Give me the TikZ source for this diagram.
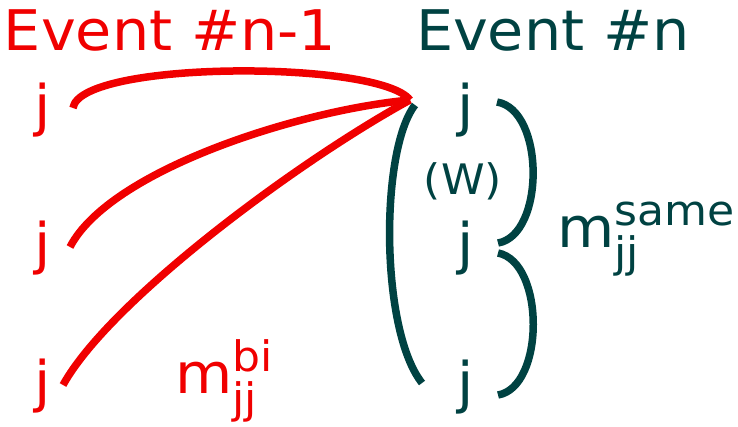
\documentclass[tikz,border=0pt]{standalone}
\usepackage{fontspec}
\setmainfont{DejaVu Sans}[FakeStretch=1.05]
\definecolor{evred}{RGB}{240,0,0}
\definecolor{evteal}{RGB}{0,66,66}
\begin{document}
\begin{tikzpicture}[x=1pt,y=-1pt,
  big/.style={font=\fontsize{56}{60}\selectfont, inner sep=0pt, outer sep=0pt},
  mid/.style={font=\fontsize{42}{46}\selectfont, inner sep=0pt, outer sep=0pt},
  redline/.style={draw=evred, line width=7.5pt},
  tealline/.style={draw=evteal, line width=7.5pt}]
\useasboundingbox (0,0) rectangle (738,426);
% titles
\node[big, text=evred, anchor=base west] (t1) at (4,50) {Event \#n-1};
\node[big, text=evteal, anchor=base west] (t2) at (416,50) {Event \#n};
% left jets
\node[big, text=evred, anchor=base west] (l1) at (34,125) {j};
\node[big, text=evred, anchor=base west] (l2) at (34,263) {j};
\node[big, text=evred, anchor=base west] (l3) at (34,401) {j};
% right jets
\node[big, text=evteal, anchor=base west] (r1) at (457,125) {j};
\node[big, text=evteal, anchor=base west] (r2) at (457,263) {j};
\node[big, text=evteal, anchor=base west] (r3) at (457,402) {j};
\node[mid, text=evteal, anchor=base] (w) at (463,194) {(W)};
% labels
\node[big, text=evteal, anchor=base west] (ms) at (557,247) {m};
\node[mid, text=evteal, anchor=base west] (mss) at (ms.base east) [yshift=22pt] {same};
\node[mid, text=evteal, anchor=base west] (msj) at (ms.base east) [yshift=-20pt] {jj};
\node[big, text=evred, anchor=base west] (mb) at (175,393) {m};
\node[mid, text=evred, anchor=base west] (mbs) at (mb.base east) [yshift=22pt] {bi};
\node[mid, text=evred, anchor=base west] (mbj) at (mb.base east) [yshift=-20pt] {jj};
% connectors
\coordinate (P) at (410,100);
\coordinate (a1) at (73,108);
\coordinate (a2) at (70,247);
\coordinate (a3) at (63,385);
\draw[redline] (a1) .. controls (80,60) and (380,60) .. (P);
\draw[redline] (a2) .. controls (110,170) and (300,110) .. (P);
\draw[redline] (a3) .. controls (110,300) and (300,160) .. (P);
% brackets
\coordinate (b1) at (415,105);
\coordinate (b2) at (422,383);
\draw[tealline] (b1) .. controls (380,150) and (380,330) .. (b2);
\coordinate (c1) at (497,102);
\coordinate (c2) at (498,243);
\coordinate (c3) at (498,253);
\coordinate (c4) at (498,395);
\draw[tealline] (c1) .. controls (545,110) and (545,235) .. (c2);
\draw[tealline] (c3) .. controls (545,262) and (545,387) .. (c4);
\end{tikzpicture}
\end{document}
